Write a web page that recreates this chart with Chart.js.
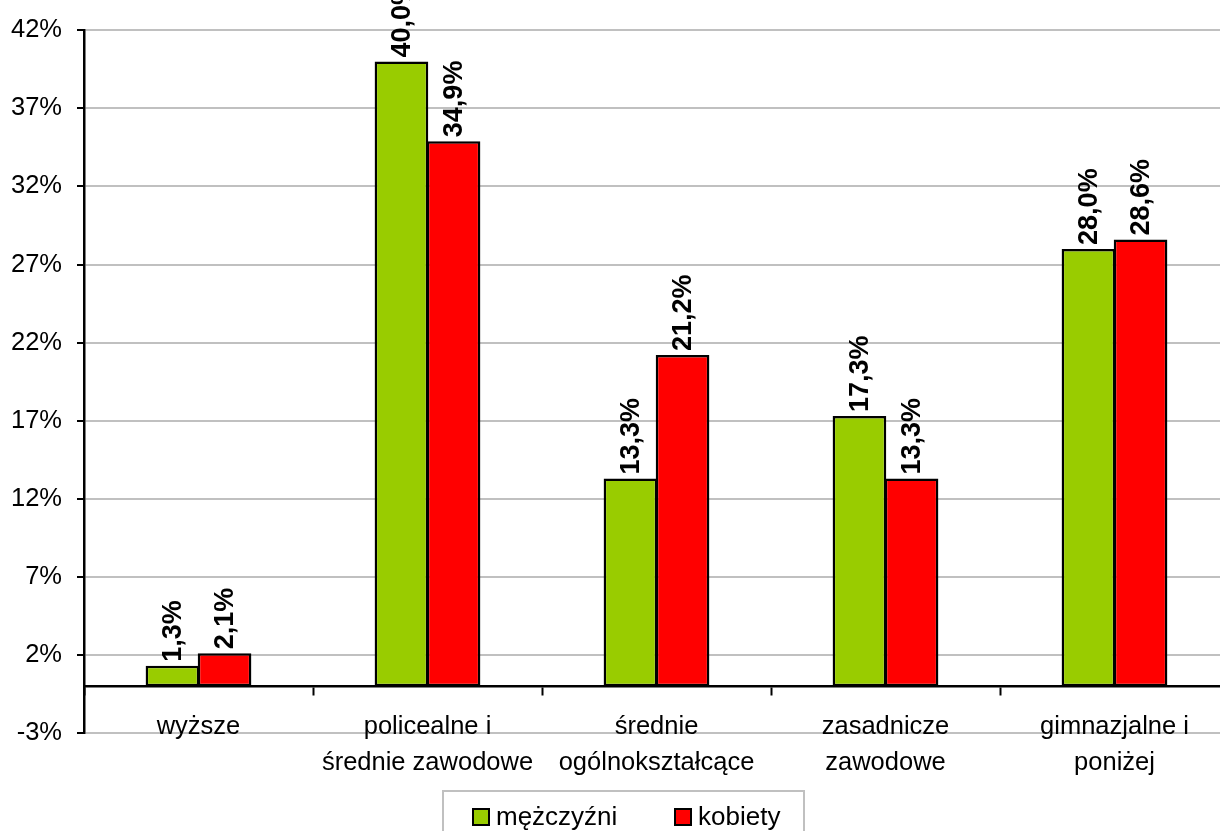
<!DOCTYPE html>
<html>
<head>
<meta charset="utf-8">
<script src="https://cdn.jsdelivr.net/npm/chart.js@4"></script>
<style>
  html, body { margin: 0; padding: 0; overflow: hidden; background: #fff; }
  #wrap { position: relative; width: 1220px; height: 831px; overflow: hidden; }
  #chart { position: absolute; left: 0; top: 0; }
  #legend {
    position: absolute; left: 442px; top: 790px; width: 363px; height: 50px;
    border: 2px solid #c0c0c0; box-sizing: border-box;
    font-family: "Liberation Sans", Arial, sans-serif; font-size: 26px; color: #000;
  }
  #legend .item { position: absolute; top: 9px; line-height: 30px; white-space: nowrap; }
  #legend .box { display: inline-block; width: 14px; height: 14px; border: 2px solid #000;
    vertical-align: -1px; margin-right: 6px; }
</style>
</head>
<body>
<div id="wrap">
  <canvas id="chart" width="1229" height="831"></canvas>
  <div id="legend">
    <span class="item" style="left:28px"><span class="box" style="background:#99cc00"></span>mężczyźni</span>
    <span class="item" style="left:230px"><span class="box" style="background:#ff0000"></span>kobiety</span>
  </div>
</div>
<script>
// categories and values
const categories = [
  ['wyższe'],
  ['policealne i', 'średnie zawodowe'],
  ['średnie', 'ogólnokształcące'],
  ['zasadnicze', 'zawodowe'],
  ['gimnazjalne i', 'poniżej']
];
const men = [1.3, 40.0, 13.3, 17.3, 28.0];
const women = [2.1, 34.9, 21.2, 13.3, 28.6];
const seriesNames = ['mężczyźni', 'kobiety'];
const yMin = -3, yMax = 42, yStep = 5;

const FONT = '"Liberation Sans", Arial, sans-serif';

// vertical value labels above the bars
const barLabels = {
  id: 'barLabels',
  afterDatasetsDraw(chart) {
    const ctx = chart.ctx;
    ctx.save();
    ctx.font = 'bold 27px ' + FONT;
    ctx.fillStyle = '#000';
    ctx.textAlign = 'left';
    ctx.textBaseline = 'middle';
    chart.data.datasets.forEach((ds, i) => {
      chart.getDatasetMeta(i).data.forEach((bar, j) => {
        const txt = ds.data[j].toFixed(1).replace('.', ',') + '%';
        ctx.save();
        ctx.translate(bar.x + 1, bar.y - 4);
        ctx.rotate(-Math.PI / 2);
        ctx.fillText(txt, 0, 0);
        ctx.restore();
      });
    });
    ctx.restore();
  }
};

new Chart(document.getElementById('chart'), {
  type: 'bar',
  data: {
    labels: categories,
    datasets: [
      { label: seriesNames[0], data: men, backgroundColor: '#99cc00' },
      { label: seriesNames[1], data: women, backgroundColor: '#ff0000' }
    ]
  },
  options: {
    responsive: false,
    animation: false,
    layout: { padding: { top: 27, bottom: 98, left: 0, right: 0 } },
    datasets: {
      bar: {
        borderColor: '#000',
        borderWidth: 2.5,
        borderSkipped: false,
        categoryPercentage: 0.455,
        barPercentage: 1.03
      }
    },
    plugins: {
      legend: { display: false },
      tooltip: { enabled: false }
    },
    scales: {
      x: {
        position: { y: 0 },
        offset: true,
        grid: {
          offset: true,
          drawOnChartArea: false,
          drawTicks: true,
          tickLength: 8,
          tickColor: '#000',
          tickWidth: 2
        },
        border: { color: '#000', width: 2.5 },
        ticks: {
          color: '#000',
          padding: 15,
          maxRotation: 0,
          autoSkip: false,
          font: { family: FONT, size: 25.5, lineHeight: 1.4 }
        }
      },
      y: {
        min: yMin,
        max: yMax,
        afterFit(scale) { scale.width = 84; },
        grid: {
          color: '#c0c0c0',
          lineWidth: 2,
          tickLength: 7,
          tickColor: '#000',
          tickWidth: 2
        },
        border: { color: '#000', width: 2.5 },
        ticks: {
          stepSize: yStep,
          color: '#000',
          padding: 15,
          font: { family: FONT, size: 25.5 },
          callback: v => v + '%'
        }
      }
    }
  },
  plugins: [barLabels]
});
</script>
</body>
</html>
